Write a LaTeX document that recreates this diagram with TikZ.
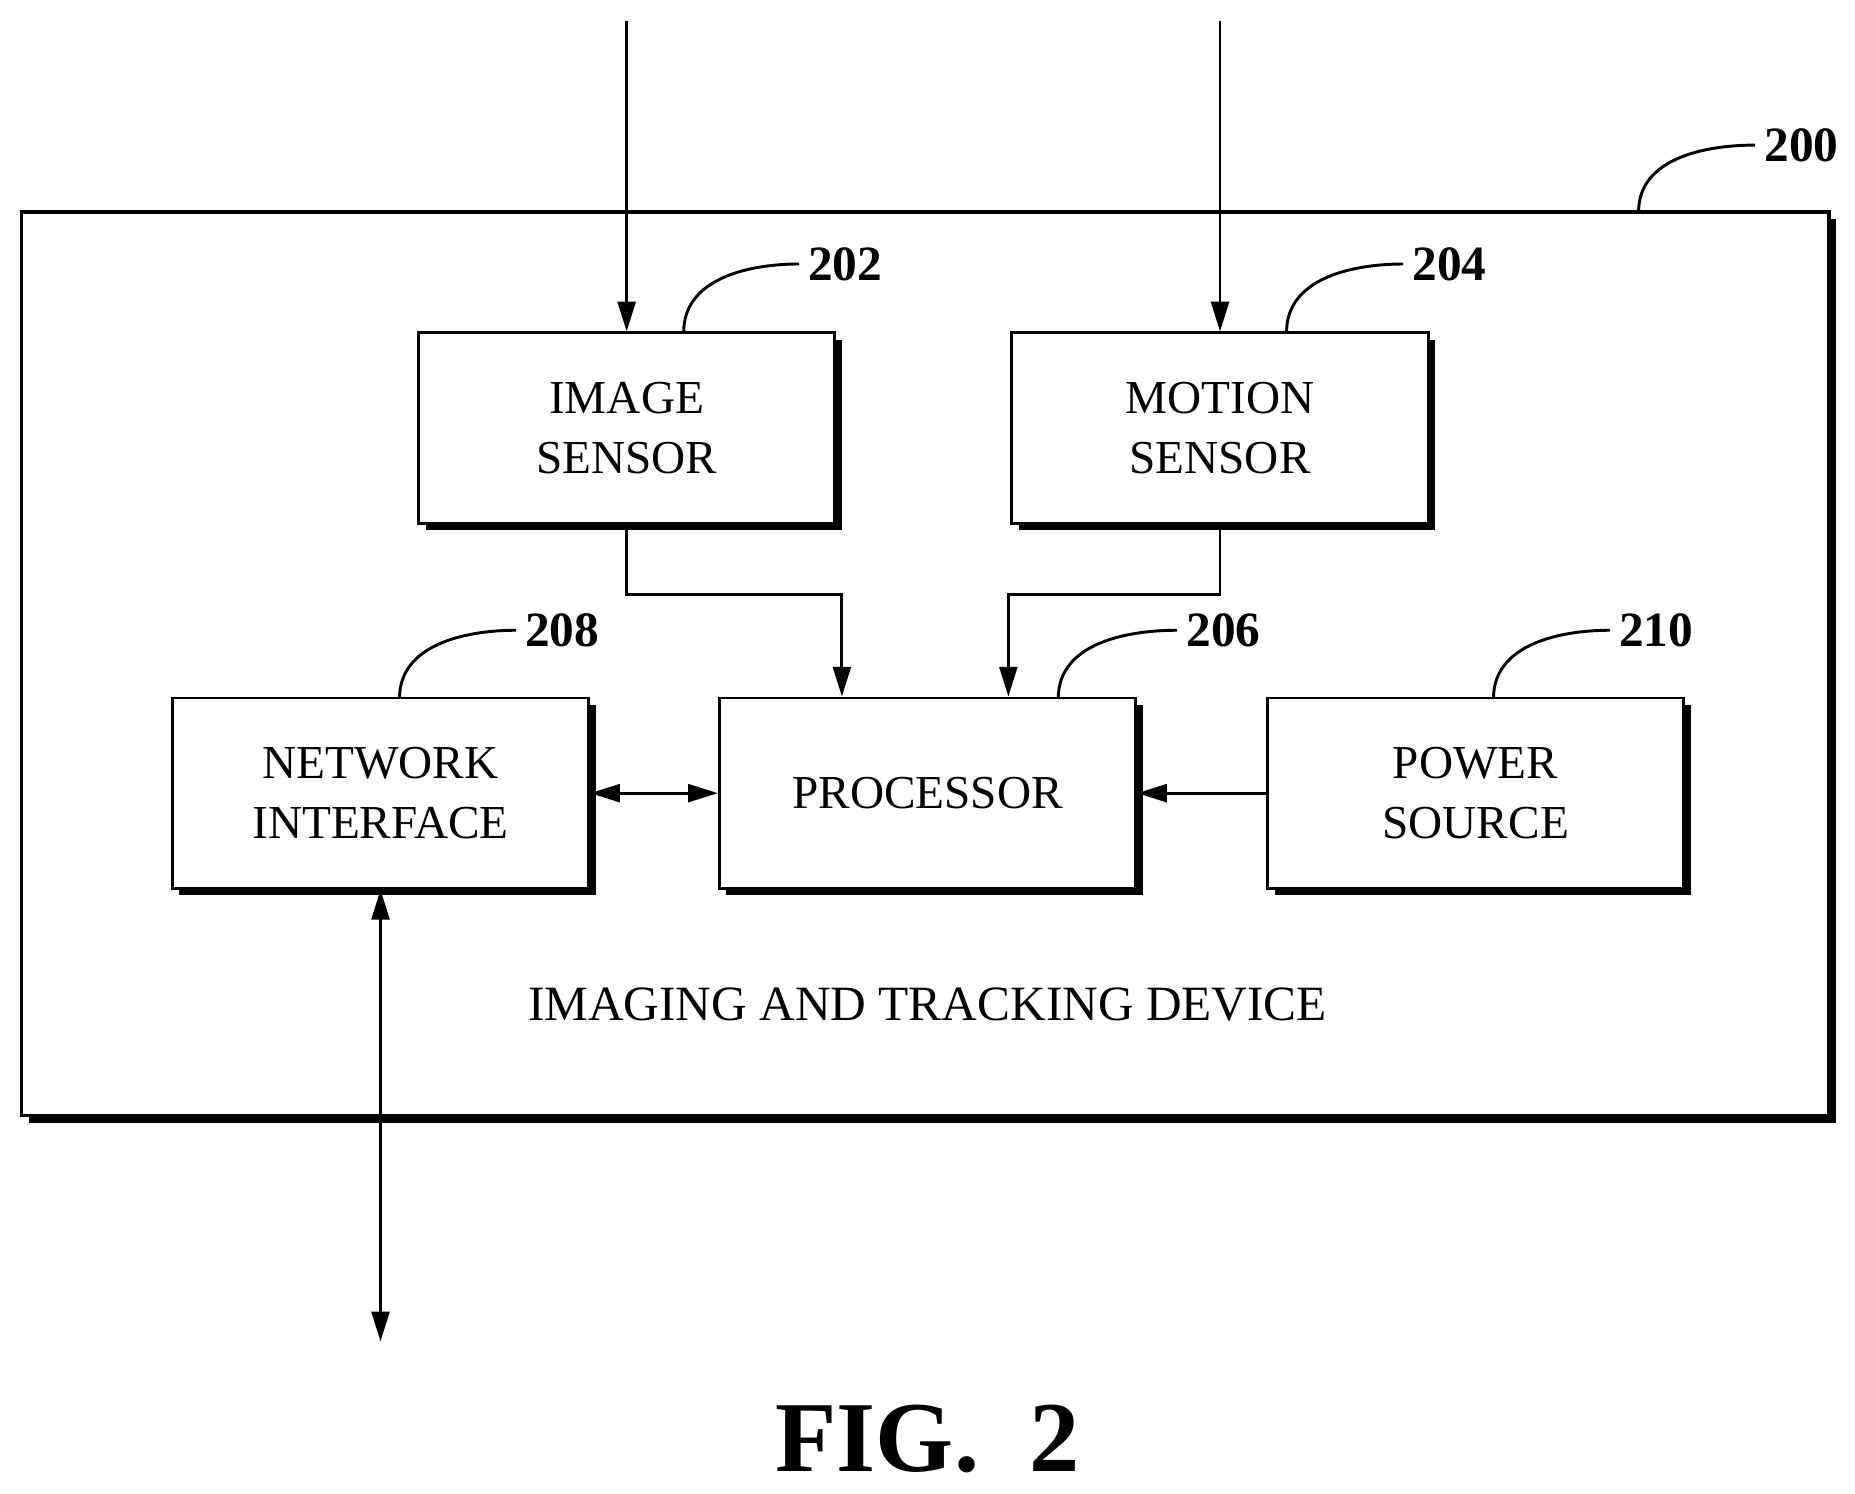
\documentclass[tikz,border=0pt]{standalone}
\usepackage{fontspec}
\setmainfont{Liberation Serif}
\usetikzlibrary{arrows.meta,positioning,shadows}

\begin{document}
\begin{tikzpicture}[
    x=0.01cm, y=-0.01cm,
    box/.style={rectangle, draw, line width=0.7pt, fill=white, minimum width=3.5cm, minimum height=1.6cm, align=center, font=\fontsize{11.3}{14.5}\selectfont,
        drop shadow={shadow xshift=0.06cm, shadow yshift=-0.06cm, opacity=1, fill=black}},
    arrow/.style={-{Triangle[length=0.25cm, width=0.15cm]}, line width=0.7pt},
    dblarrow/.style={{Triangle[length=0.25cm, width=0.15cm]}-{Triangle[length=0.25cm, width=0.15cm]}, line width=0.7pt},
    ref/.style={font=\fontsize{11.8}{14}\selectfont\bfseries, anchor=west, inner sep=2pt},
    lead/.style={line width=0.7pt}
]
\useasboundingbox (0,0) rectangle (1560,1256);

% device frame
\fill (24,184) rectangle (1544,944);
\draw[line width=0.9pt, fill=white] (18,178) rectangle (1538,938);
\node[font=\fontsize{11.8}{14}\selectfont] (dev) at (780,845) {IMAGING AND TRACKING DEVICE};

% blocks
\node[box] (isens) at (527,360) {IMAGE\\SENSOR};
\node[box] (msens) at (1026,360) {MOTION\\SENSOR};
\node[box] (net) at (320,667) {NETWORK\\INTERFACE};
\node[box] (proc) at (780,667) {PROCESSOR};
\node[box] (pow) at (1241,667) {POWER\\SOURCE};

% external ends
\coordinate (iin) at (527,18);
\coordinate (min) at (1026,18);
\coordinate (nout) at (320,1128);

\draw[arrow] (iin) -- (isens.north);
\draw[arrow] (min) -- (msens.north);
\draw[arrow] (isens.south) |- (708,500) -- (proc.north -| 708,0);
\draw[arrow] (msens.south) |- (848,500) -- (proc.north -| 848,0);
\draw[dblarrow] (net) -- (proc);
\draw[arrow] (pow) -- (proc);
\draw[dblarrow] (net.south) -- (nout);

% reference numerals
\node[ref] (n200) at (1476,122) {200};
\node[ref] (n202) at (672,222) {202};
\node[ref] (n204) at (1180,222) {204};
\node[ref] (n208) at (434,530) {208};
\node[ref] (n206) at (990,530) {206};
\node[ref] (n210) at (1354,530) {210};

\draw[lead] (1378,178) to[out=90, in=180] (n200.west);
\draw[lead] (575,279) to[out=90, in=180] (n202.west);
\draw[lead] (1082,279) to[out=90, in=180] (n204.west);
\draw[lead] (336,587) to[out=90, in=180] (n208.west);
\draw[lead] (890,587) to[out=90, in=180] (n206.west);
\draw[lead] (1256,587) to[out=90, in=180] (n210.west);

\node[font=\fontsize{24}{28}\selectfont\bfseries] (fig) at (780,1210) {FIG.~~2};
\end{tikzpicture}
\end{document}
